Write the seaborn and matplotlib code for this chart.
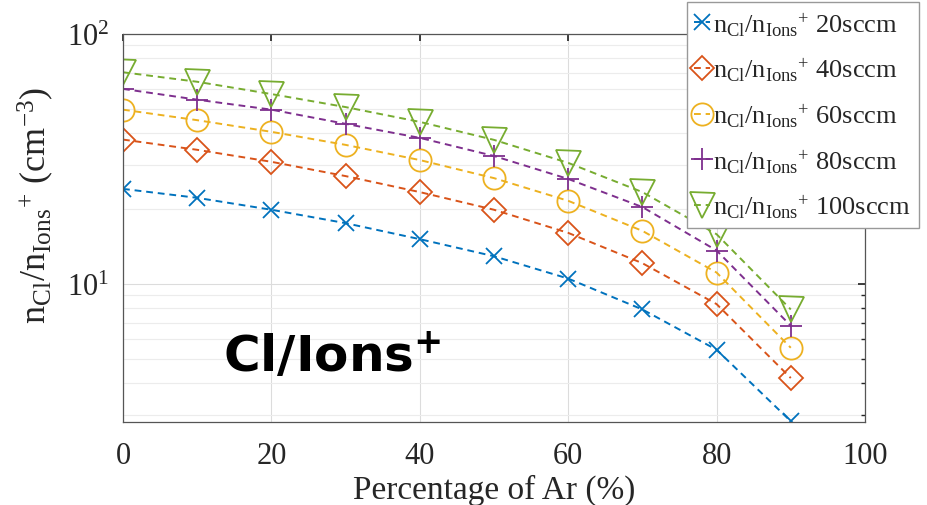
import matplotlib
matplotlib.use("Agg")
import matplotlib.pyplot as plt
import numpy as np
import pandas as pd
import seaborn as sns

# percentage of Ar (%)
ar_pct = [0, 10, 20, 30, 40, 50, 60, 70, 80, 90]
# n_Cl / n_Ions+ ratio for each Cl2 flow
ratio_20 = [24.0, 22.1, 19.8, 17.5, 15.1, 12.9, 10.5, 7.9, 5.45, 2.82]
ratio_40 = [37.8, 34.4, 30.8, 27.0, 23.3, 19.8, 16.0, 12.1, 8.3, 4.2]
ratio_60 = [49.8, 45.2, 40.6, 36.0, 31.3, 26.5, 21.5, 16.3, 11.1, 5.55]
ratio_80 = [60.3, 54.6, 49.8, 43.7, 38.4, 32.5, 26.3, 20.3, 13.6, 6.8]
ratio_100 = [70.3, 64.4, 57.5, 51.0, 44.5, 37.7, 30.5, 23.3, 15.8, 7.9]
flows = ["20sccm", "40sccm", "60sccm", "80sccm", "100sccm"]

series = [ratio_20, ratio_40, ratio_60, ratio_80, ratio_100]
colors = ["#0072BD", "#D95319", "#EDB120", "#7E2F8E", "#77AC30"]
markers = ["x", "D", "o", "+", "v"]
msizes = [11, 12, 16, 16, 18]

sns.set_theme(style="white")
plt.rcParams["font.family"] = ["Liberation Serif", "DejaVu Serif"]
plt.rcParams["mathtext.fontset"] = "custom"
plt.rcParams["mathtext.rm"] = "Liberation Serif"
plt.rcParams["mathtext.it"] = "Liberation Serif"
plt.rcParams["mathtext.bf"] = "Liberation Serif:bold"

fig = plt.figure(figsize=(9.27, 5.06), dpi=100)
ax = fig.add_axes([0.1327, 0.164, 0.8004, 0.7668])

for vals, flow, c, m, ms in zip(series, flows, colors, markers, msizes):
    df = pd.DataFrame({"ar": ar_pct, "ratio": vals})
    sns.lineplot(data=df, x="ar", y="ratio", ax=ax, color=c, marker=m,
                 markersize=ms, markerfacecolor="none", markeredgecolor=c,
                 markeredgewidth=1.3, linestyle=(0, (3.5, 2.5)), linewidth=1.4,
                 label=r"$\mathrm{n_{Cl}/n_{Ions}{}^{+}}$ " + flow)

ax.set_yscale("log")
ax.set_xlim(0, 100)
ax.set_ylim(2.8, 100)
ax.set_xticks([0, 20, 40, 60, 80, 100])
ax.grid(True, which="major", color="#dcdcdc", linewidth=0.8)
ax.grid(True, which="minor", axis="y", color="#ececec", linewidth=0.8)
ax.tick_params(axis="both", which="both", direction="in", top=True, right=True,
               labelsize=22, colors="#262626", pad=14)
ax.tick_params(axis="both", which="major", length=5)
ax.tick_params(axis="y", which="major", pad=10)
ax.tick_params(axis="y", which="minor", length=3, labelleft=False)
for sp in ax.spines.values():
    sp.set_color("#555555")
    sp.set_linewidth(0.9)

ax.set_xlabel("Percentage of Ar (%)", fontsize=24, color="#262626", labelpad=2)
ax.set_ylabel(r"$\mathrm{n_{Cl}/n_{Ions}{}^{+}\ (cm^{-3})}$", fontsize=26,
              color="#262626", labelpad=2)
ax.yaxis.set_label_coords(-0.09, 0.56)

ax.text(13.5, 4.45, r"Cl/Ions$^{\mathbf{+}}$", fontsize=36, fontweight="bold",
        color="black", family="DejaVu Sans", math_fontfamily="dejavusans",
        ha="left", va="baseline")

ax.get_legend().remove()
handles, labels = ax.get_legend_handles_labels()
leg = fig.legend(handles, labels, loc="upper right",
                 bbox_to_anchor=(991 / 1000, 1 - 3 / 506),
                 fontsize=19, frameon=True, fancybox=False, framealpha=1,
                 edgecolor="#999999", handlelength=0.6, handletextpad=0.1,
                 labelspacing=0.68, borderpad=0.3, borderaxespad=0)
leg.get_frame().set_linewidth(1.0)

fig.savefig("out.png", dpi=100)
